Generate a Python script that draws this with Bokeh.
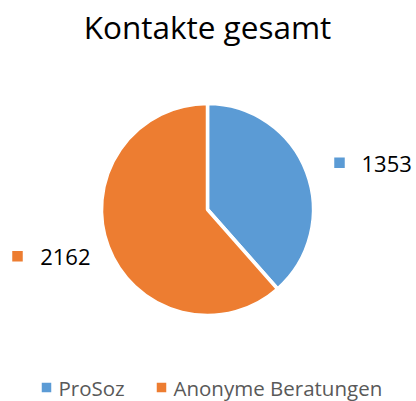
import math
from bokeh.plotting import figure
from bokeh.models import ColumnDataSource
from bokeh.core.properties import value
from bokeh.embed import file_html
from bokeh.resources import INLINE

# ---- data ----
categories = ["ProSoz", "Anonyme Beratungen"]
values = [1353, 2162]
colors = ["#5B9BD5", "#ED7D31"]
title_text = "Kontakte gesamt"

# ---- layout (pixels) ----
W, H = 416, 401
CX, CY, R = 207, 192, 106
FONT = "Open Sans"

total = sum(values)
starts, ends, mids = [], [], []
a = math.pi / 2
for v in values:
    span = 2 * math.pi * v / total
    starts.append(a - span)
    ends.append(a)
    mids.append(a - span / 2)
    a -= span

p = figure(width=W, height=H, x_range=(0, W), y_range=(0, H),
           output_backend="svg", toolbar_location=None,
           x_axis_location=None, y_axis_location=None,
           min_border=0, outline_line_color=None)
p.grid.visible = False
p.background_fill_color = "white"
p.border_fill_color = "white"

src = ColumnDataSource(dict(start=starts, end=ends, color=colors, cat=categories, val=values))
p.wedge(x=CX, y=CY, radius=R, start_angle="start", end_angle="end",
        fill_color="color", line_color="white", line_width=3.5, source=src)

# title
p.text(x=[CX], y=[375.5], text=[title_text], text_font=value(FONT),
       text_font_size="31.5px", text_color="#000000",
       text_align="center", text_baseline="middle")

# data labels
for v, c, m in zip(values, colors, mids):
    ly = CY + 1.25 * R * math.sin(m)
    if math.cos(m) >= 0:
        mx = CX + 132
        p.scatter(x=[mx], y=[ly], marker="square", size=10.5, fill_color=c, line_color=None)
        p.text(x=[mx + 22], y=[ly - 1], text=[str(v)], text_font=value(FONT),
               text_font_size="22px", text_color="#000000",
               text_align="left", text_baseline="middle")
    else:
        tx = CX - 117
        p.text(x=[tx], y=[ly - 1], text=[str(v)], text_font=value(FONT),
               text_font_size="22px", text_color="#000000",
               text_align="right", text_baseline="middle")
        p.scatter(x=[CX - 190], y=[ly], marker="square", size=10.5, fill_color=c, line_color=None)

# legend
LEG_X = [46, 161]
LEG_Y = 14
for lx, cat, c in zip(LEG_X, categories, colors):
    p.scatter(x=[lx], y=[LEG_Y], marker="square", size=9.5, fill_color=c, line_color=None)
    p.text(x=[lx + 12], y=[LEG_Y], text=[cat], text_font=value(FONT),
           text_font_size="20.5px", text_color="#595959",
           text_align="left", text_baseline="middle")

open("out.html", "w").write(file_html(p, INLINE))
